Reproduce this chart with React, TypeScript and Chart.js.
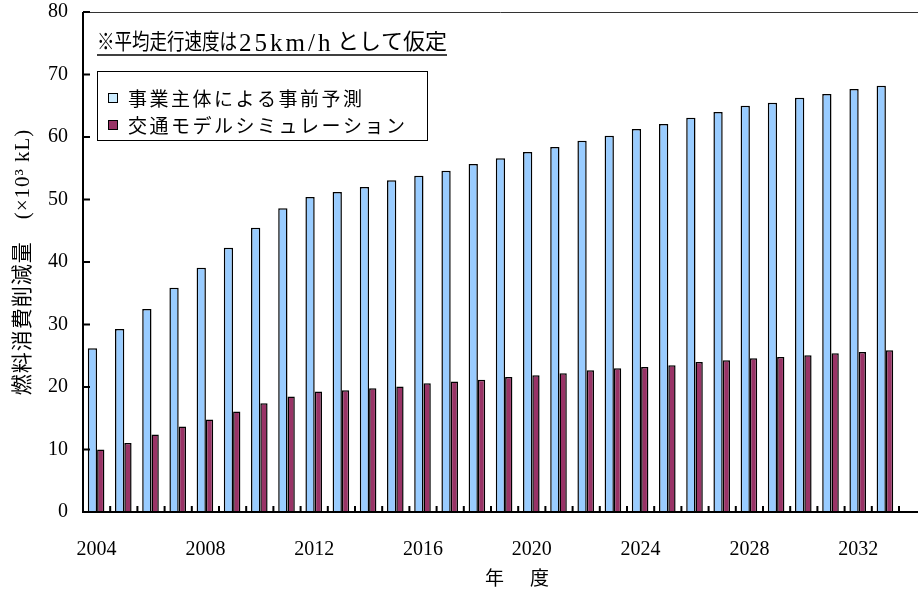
import React, { useEffect, useRef } from "react";
import { Chart, registerables } from "chart.js";

Chart.register(...registerables);

const years = [
  "2004", "2005", "2006", "2007", "2008", "2009", "2010", "2011", "2012", "2013",
  "2014", "2015", "2016", "2017", "2018", "2019", "2020", "2021", "2022", "2023",
  "2024", "2025", "2026", "2027", "2028", "2029", "2030", "2031", "2032", "2033",
];

const shownYearLabels = ["2004", "2008", "2012", "2016", "2020", "2024", "2028", "2032"];

const jigyoValues = [
  26.2, 29.3, 32.5, 35.9, 39.1, 42.3, 45.5, 48.6, 50.4, 51.2,
  52.0, 53.1, 53.8, 54.6, 55.7, 56.6, 57.6, 58.4, 59.4, 60.2,
  61.3, 62.1, 63.1, 64.0, 65.0, 65.5, 66.3, 66.9, 67.7, 68.2,
];

const simValues = [
  10.0, 11.05, 12.4, 13.7, 14.8, 16.1, 17.4, 18.5, 19.3, 19.5,
  19.8, 20.1, 20.6, 20.9, 21.15, 21.6, 21.9, 22.2, 22.7, 23.0,
  23.2, 23.5, 24.0, 24.3, 24.6, 24.8, 25.1, 25.4, 25.6, 25.9,
];

const yTickValues = [0, 10, 20, 30, 40, 50, 60, 70, 80];

const seriesNames = ["事業主体による事前予測", "交通モデルシミュレーション"];
const noteText = ["※平均走行速度は", "25km/h", "として仮定"];
const yTitle = "燃料消費削減量　(×10³ kL)";
const xTitle = "年　度";

const BLUE = "#99CCFF";
const BLUE_LEGEND = "#CCECFF";
const MAROON = "#993366";

const SERIF = '"Liberation Serif", "Noto Sans CJK JP", serif';
const CJK = '"Noto Sans CJK JP", "Liberation Serif", sans-serif';

const decorPlugin = {
  id: "decor",
  afterDatasetsDraw(chart: any) {
    const ctx = chart.ctx as CanvasRenderingContext2D;
    const area = chart.chartArea;
    const xs = chart.scales.x;
    const ys = chart.scales.y;
    const W = chart.width;
    ctx.save();

    // top border
    ctx.strokeStyle = "#333";
    ctx.lineWidth = 1;
    ctx.beginPath();
    ctx.moveTo(area.left, Math.round(area.top) + 0.5);
    ctx.lineTo(W, Math.round(area.top) + 0.5);
    ctx.stroke();

    // axes
    ctx.strokeStyle = "#000";
    ctx.lineWidth = 2;
    ctx.beginPath();
    ctx.moveTo(area.left, area.top);
    ctx.lineTo(area.left, area.bottom + 1);
    ctx.moveTo(area.left - 1, area.bottom);
    ctx.lineTo(W, area.bottom);
    ctx.stroke();

    // inward ticks at category boundaries and at y values
    ctx.lineWidth = 2;
    ctx.beginPath();
    const n = chart.data.labels.length;
    for (let i = 1; i <= n; i++) {
      const xp =
        i < n ? (xs.getPixelForTick(i - 1) + xs.getPixelForTick(i)) / 2 : xs.right;
      ctx.moveTo(xp, area.bottom);
      ctx.lineTo(xp, area.bottom - 6);
    }
    yTickValues.forEach((v) => {
      if (v === 0) return;
      const yp = ys.getPixelForValue(v);
      ctx.moveTo(area.left, yp);
      ctx.lineTo(area.left + 7, yp);
    });
    ctx.stroke();

    ctx.fillStyle = "#000";

    // note text (underlined)
    ctx.textAlign = "left";
    ctx.textBaseline = "alphabetic";
    ctx.font = "22px " + CJK;
    (ctx as any).letterSpacing = "0px";
    ctx.fillText(noteText[0], 97, 49, 140);
    ctx.font = "25px " + SERIF;
    (ctx as any).letterSpacing = "3px";
    ctx.fillText(noteText[1], 239, 51, 97);
    ctx.font = "22px " + CJK;
    (ctx as any).letterSpacing = "0px";
    ctx.fillText(noteText[2], 337, 49, 110);
    ctx.lineWidth = 1.5;
    ctx.beginPath();
    ctx.moveTo(97, 55);
    ctx.lineTo(447, 55);
    ctx.stroke();

    // legend
    ctx.textBaseline = "middle";
    ctx.lineWidth = 1;
    ctx.strokeStyle = "#000";
    ctx.fillStyle = "#fff";
    ctx.fillRect(97, 71, 330, 69);
    ctx.strokeRect(97.5, 71.5, 330, 69);
    const legendFills = [BLUE_LEGEND, chart.data.datasets[1].backgroundColor];
    const rows = [98, 125];
    chart.data.datasets.forEach((ds: any, i: number) => {
      ctx.fillStyle = legendFills[i];
      ctx.fillRect(108, rows[i] - 5, 10, 10);
      ctx.strokeStyle = "#000";
      ctx.strokeRect(108.5, rows[i] - 4.5, 9, 9);
      ctx.fillStyle = "#000";
      ctx.font = "19px " + CJK;
      (ctx as any).letterSpacing = "2.5px";
      ctx.fillText(ds.label, 128, rows[i] + 1);
    });

    // y title
    ctx.save();
    ctx.translate(23, 262);
    ctx.rotate(-Math.PI / 2);
    ctx.textAlign = "center";
    ctx.font = "21px " + SERIF;
    (ctx as any).letterSpacing = "1px";
    ctx.fillText(yTitle, 0, 0);
    ctx.restore();

    // x title
    ctx.textAlign = "left";
    ctx.font = "19px " + CJK;
    (ctx as any).letterSpacing = "3.5px";
    ctx.fillText(xTitle, 485, 578);

    (ctx as any).letterSpacing = "0px";
    ctx.restore();
  },
};

export default function App() {
  const ref = useRef<HTMLCanvasElement | null>(null);

  useEffect(() => {
    document.body.style.margin = "0";
    document.body.style.overflow = "hidden";
    const canvas = ref.current;
    if (!canvas) return;
    const chart = new Chart(canvas, {
      type: "bar",
      data: {
        labels: years,
        datasets: [
          {
            label: seriesNames[0],
            data: jigyoValues,
            backgroundColor: BLUE,
            borderColor: "#000",
            borderWidth: 1.5,
            barPercentage: 1.12,
            categoryPercentage: 0.61,
          },
          {
            label: seriesNames[1],
            data: simValues,
            backgroundColor: MAROON,
            borderColor: "#000",
            borderWidth: 1.5,
            barPercentage: 0.88,
            categoryPercentage: 0.61,
          },
        ],
      },
      options: {
        responsive: false,
        animation: false,
        layout: { padding: { top: 0, right: 19, left: 0, bottom: 0 } },
        plugins: {
          legend: { display: false },
          tooltip: { enabled: false },
          title: { display: false },
        },
        scales: {
          x: {
            grid: { display: false, drawTicks: false },
            border: { display: false },
            ticks: {
              autoSkip: false,
              maxRotation: 0,
              padding: 26,
              color: "#000",
              font: { family: SERIF, size: 20 },
              callback: function (this: any, value: any, index: number) {
                const lab = years[index];
                return shownYearLabels.includes(lab) ? lab : "";
              },
            },
            afterFit: (scale: any) => {
              scale.height = 83;
              scale.paddingLeft = 0;
              scale.paddingRight = 0;
            },
          },
          y: {
            min: 0,
            max: 80,
            grid: { display: false, drawTicks: false },
            border: { display: false },
            afterBuildTicks: (scale: any) => {
              scale.ticks = yTickValues.map((v) => ({ value: v }));
            },
            ticks: {
              padding: 15,
              color: "#000",
              font: { family: SERIF, size: 20 },
            },
            afterFit: (scale: any) => {
              scale.width = 83;
              scale.paddingTop = 12;
              scale.paddingBottom = 0;
            },
          },
        },
      },
      plugins: [decorPlugin],
    });
    return () => chart.destroy();
  }, []);

  return (
    <div style={{ width: 918, height: 595, position: "relative" }}>
      <canvas ref={ref} width={918} height={595} style={{ display: "block" }} />
    </div>
  );
}
